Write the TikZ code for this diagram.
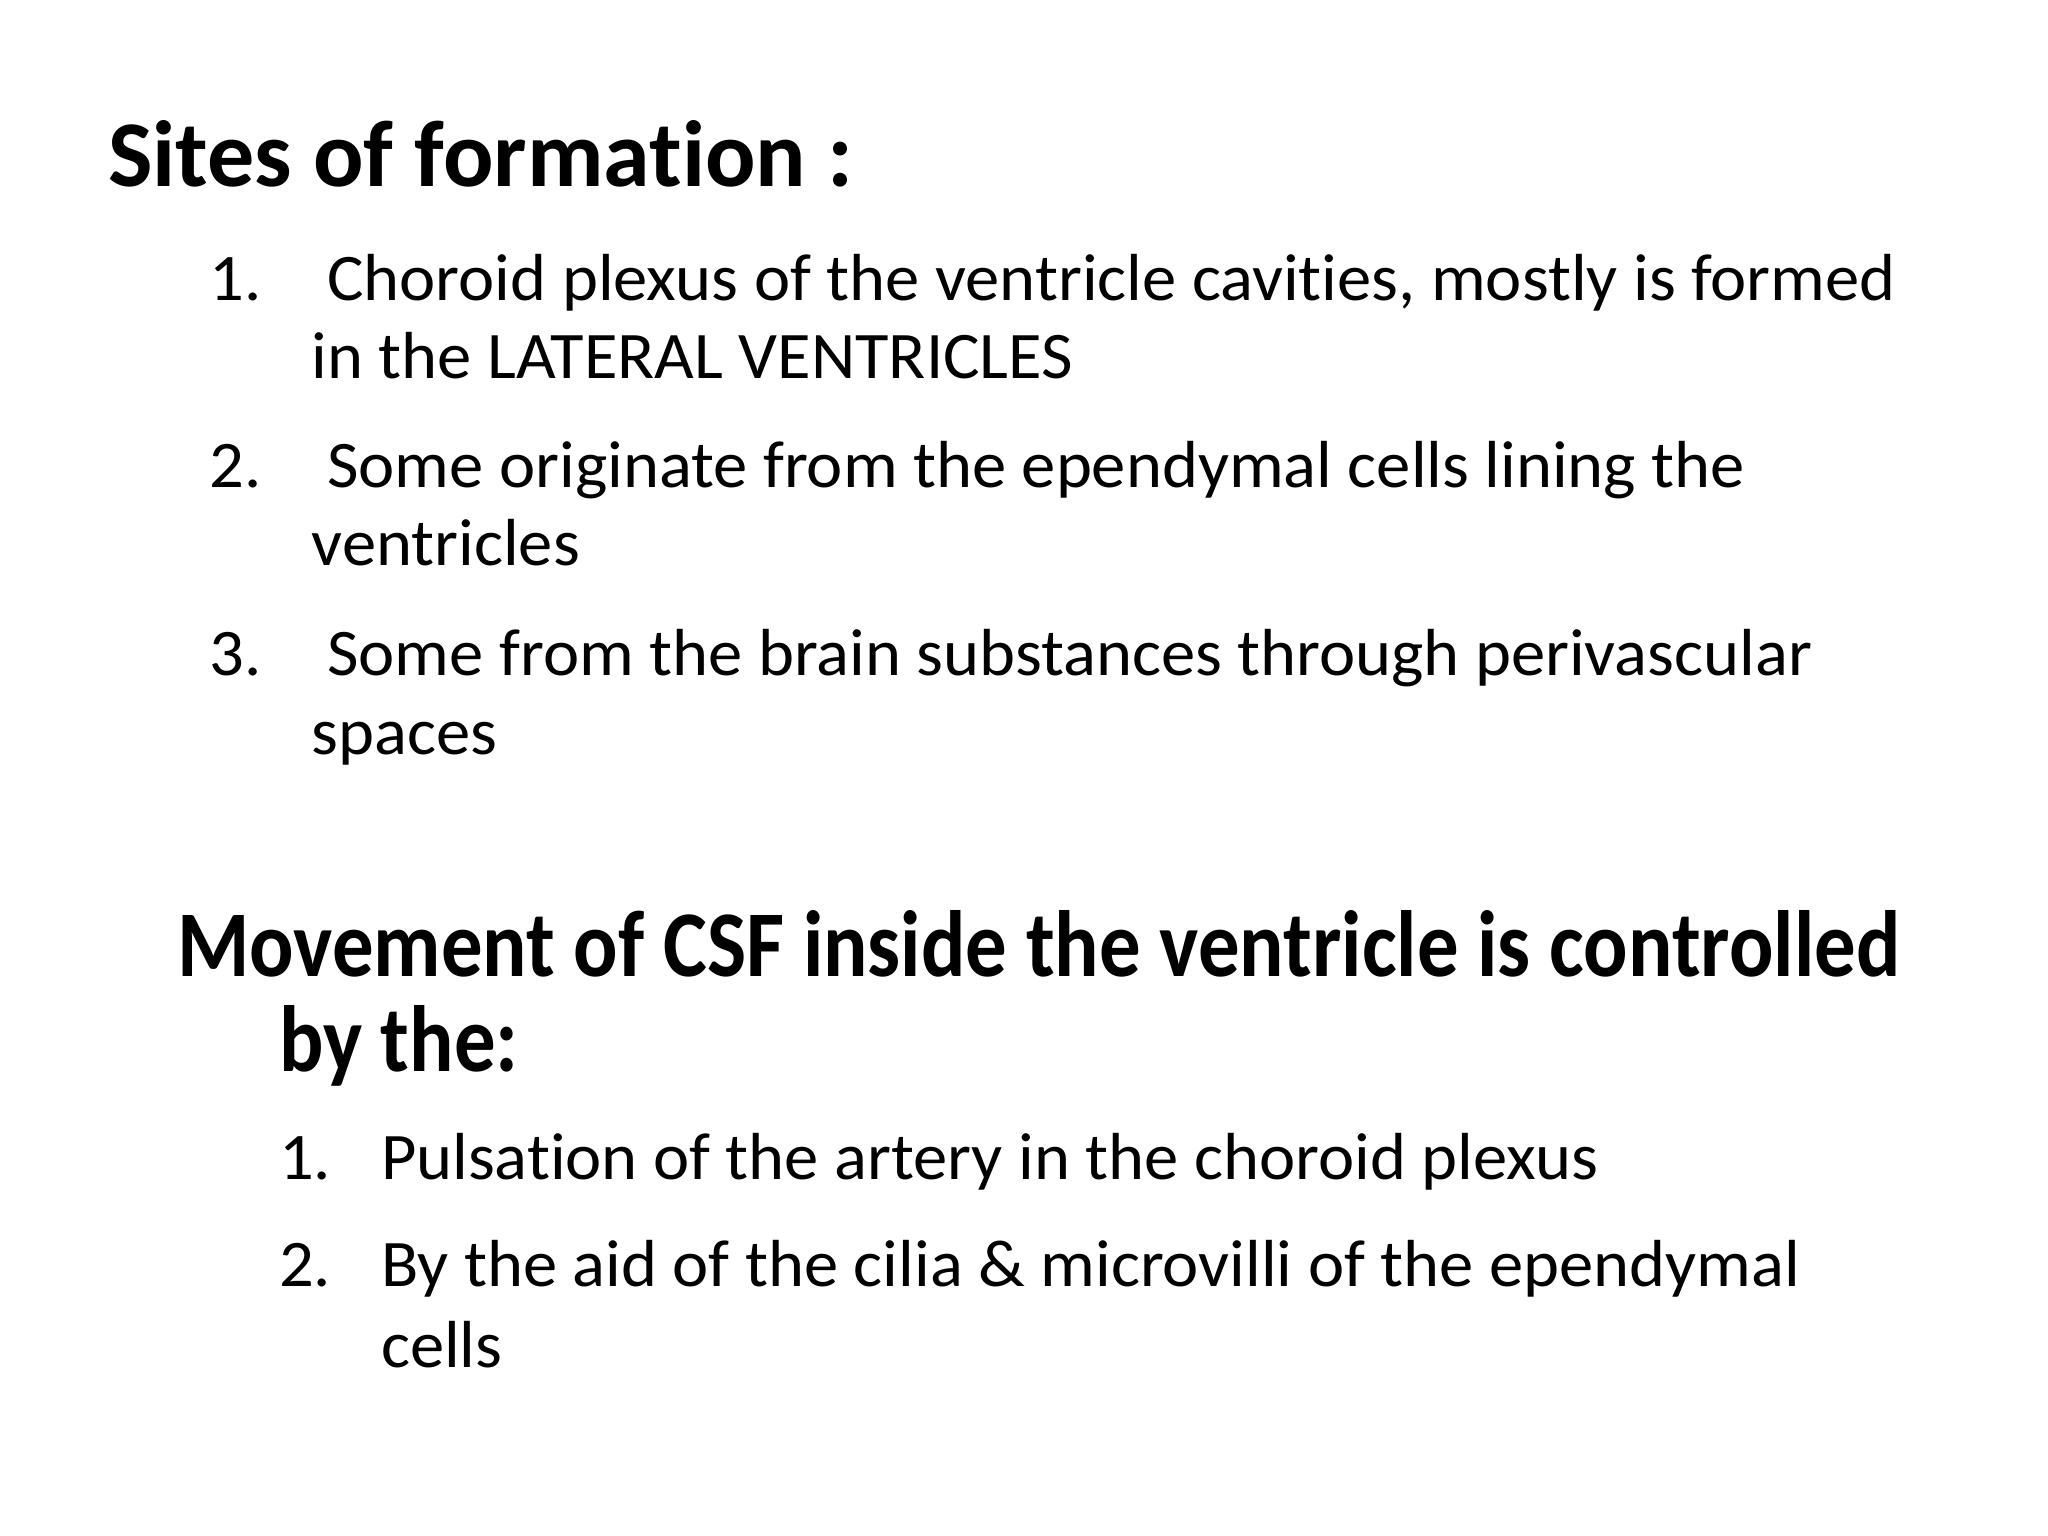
\documentclass[tikz,border=0pt]{standalone}
\usepackage{fontspec}
\setmainfont[Ligatures=NoCommon]{Carlito}
\begin{document}
\begin{tikzpicture}[x=0.1mm,y=-0.1mm,
  head/.style={anchor=base west,inner sep=0pt,font=\fontsize{20.5pt}{24pt}\selectfont\bfseries},
  headn/.style={head,xscale=0.88},
  body/.style={anchor=base west,inner sep=0pt,xscale=1.03,font=\fontsize{14.5pt}{18pt}\selectfont}]
\useasboundingbox (0,0) rectangle (1568,1176);
\node[head] (h1) at (82,143) {Sites of formation :};
\node[body] (n1) at (160,230) {1.};
\node[body] (t1a) at (238,230) {\ Choroid plexus of the ventricle cavities, mostly is formed};
\node[body] (t1b) at (238,290) {in the LATERAL VENTRICLES};
\node[body] (n2) at (160,373) {2.};
\node[body] (t2a) at (238,373) {\ Some originate from the ependymal cells lining the};
\node[body] (t2b) at (238,433) {ventricles};
\node[body] (n3) at (160,517) {3.};
\node[body] (t3a) at (238,517) {\ Some from the brain substances through perivascular};
\node[body] (t3b) at (238,578) {spaces};
\node[headn] (h2a) at (135,748) {Movement of CSF inside the ventricle is controlled};
\node[headn] (h2b) at (213,820) {by the:};
\node[body] (m1) at (213,903) {1.};
\node[body] (u1) at (291,903) {Pulsation of the artery in the choroid plexus};
\node[body] (m2) at (213,985) {2.};
\node[body] (u2a) at (291,985) {By the aid of the cilia \& microvilli of the ependymal};
\node[body] (u2b) at (291,1047) {cells};
\end{tikzpicture}
\end{document}
